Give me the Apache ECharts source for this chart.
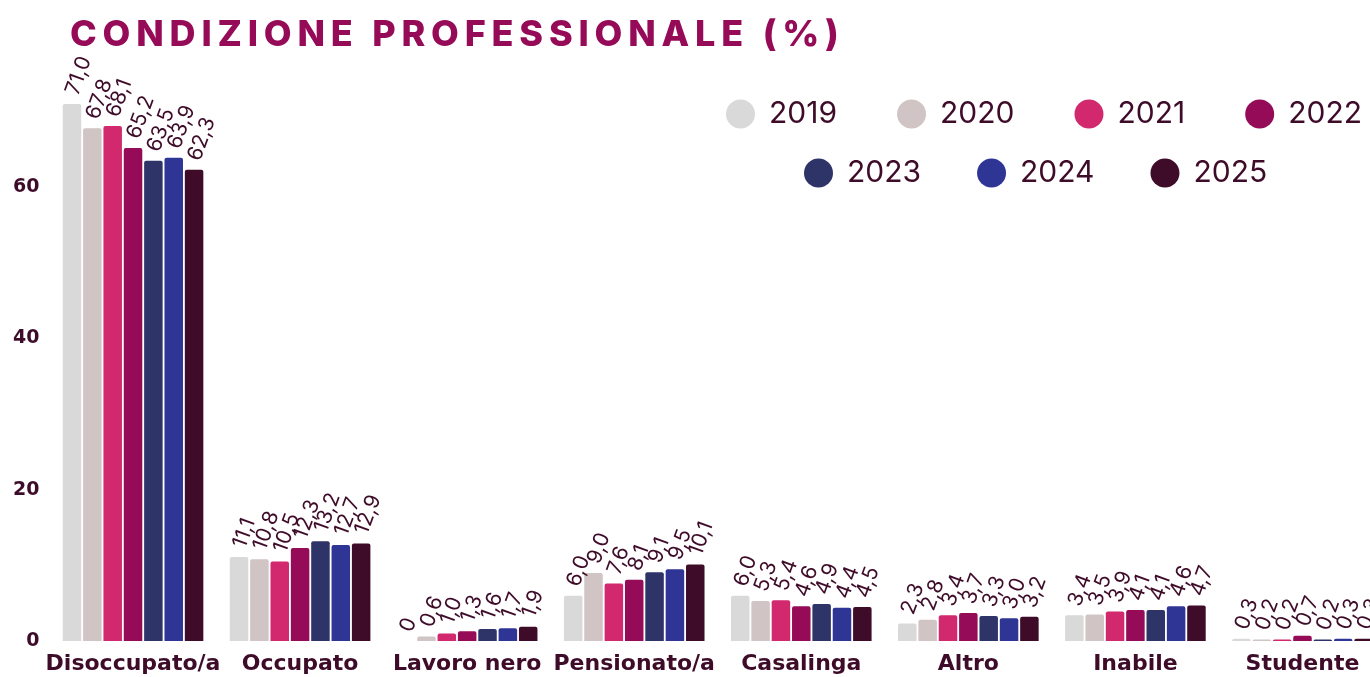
<!DOCTYPE html>
<html>
<head>
<meta charset="utf-8">
<script src="https://cdn.jsdelivr.net/npm/echarts@6/dist/echarts.min.js"></script>
<style>
	html, body { margin: 0; padding: 0; background: #fff; }
	#wrap { position: relative; width: 1370px; height: 677px; }
	#title { position: absolute; left: 70px; top: 11px; font-family: Inter, sans-serif; font-weight: 800; font-size: 36px; letter-spacing: 5.8px; color: #960b57; white-space: nowrap; }
	#container { width: 1370px; height: 677px; }
</style>
</head>
<body>
<div id="wrap">
	<div id="container"></div>
	<div id="title">CONDIZIONE PROFESSIONALE (%)</div>
</div>
<script>
const Categories = ['Disoccupato/a', 'Occupato', 'Lavoro nero', 'Pensionato/a', 'Casalinga', 'Altro', 'Inabile', 'Studente'];
const Years = ['2019', '2020', '2021', '2022', '2023', '2024', '2025'];
const Colors = ['#d9d9d9', '#d1c4c4', '#d2296e', '#960b57', '#2f3468', '#2e3595', '#3e0c29'];
const Y2019 = [71.0, 11.1, 0, 6.0, 6.0, 2.3, 3.4, 0.3];
const Y2020 = [67.8, 10.8, 0.6, 9.0, 5.3, 2.8, 3.5, 0.2];
const Y2021 = [68.1, 10.5, 1.0, 7.6, 5.4, 3.4, 3.9, 0.2];
const Y2022 = [65.2, 12.3, 1.3, 8.1, 4.6, 3.7, 4.1, 0.7];
const Y2023 = [63.5, 13.2, 1.6, 9.1, 4.9, 3.3, 4.1, 0.2];
const Y2024 = [63.9, 12.7, 1.7, 9.5, 4.4, 3.0, 4.6, 0.3];
const Y2025 = [62.3, 12.9, 1.9, 10.1, 4.5, 3.2, 4.7, 0.3];
const YTicks = [0, 20, 40, 60];

const Values = [Y2019, Y2020, Y2021, Y2022, Y2023, Y2024, Y2025];
const TextColor = '#3e0c29';

function Fmt(v) {
	return v === 0 ? '0' : v.toFixed(1).replace('.', ',');
}

const series = Years.map(function (year, i) {
	return {
		name: year, type: 'bar', data: Values[i], barWidth: 18.5, barGap: '10%',
		itemStyle: {color: Colors[i], borderRadius: [2, 2, 0, 0]},
		label: {
			show: true, position: 'top', rotate: 70, align: 'left', verticalAlign: 'middle', distance: 10,
			color: TextColor, fontFamily: 'Inter', fontSize: 21, fontWeight: 400,
			formatter: function (p) { return Fmt(p.value); }
		}
	};
});

const LegendText = {color: TextColor, fontFamily: 'Inter', fontSize: 30, fontWeight: 400, padding: [0, 0, 0, 9]};

const option = {
	animation: false,
	legend: [{
		data: Years.slice(0, 4), left: 721, top: 94, width: 800, icon: 'circle', itemWidth: 29, itemHeight: 29, itemGap: 60,
		textStyle: LegendText
	}, {
		data: Years.slice(4), left: 799, top: 153, width: 700, icon: 'circle', itemWidth: 29, itemHeight: 29, itemGap: 56,
		textStyle: LegendText
	}],
	grid: {left: 49.5, right: -16, top: 36, bottom: 36, outerBoundsMode: 'none'},
	xAxis: {
		type: 'category', data: Categories,
		axisLine: {show: false}, axisTick: {show: false},
		axisLabel: {color: TextColor, fontFamily: 'DejaVu Sans', fontSize: 22, fontWeight: 700, margin: 12, interval: 0}
	},
	yAxis: {
		type: 'value', min: 0, max: 80, interval: 20,
		splitLine: {show: false}, axisLine: {show: false}, axisTick: {show: false},
		axisLabel: {
			color: TextColor, fontFamily: 'DejaVu Sans', fontSize: 19, fontWeight: 700, margin: 10,
			formatter: function (v) { return YTicks.indexOf(v) >= 0 ? v : ''; }
		}
	},
	series: series
};
echarts.init(document.getElementById('container')).setOption(option);
</script>
</body>
</html>
